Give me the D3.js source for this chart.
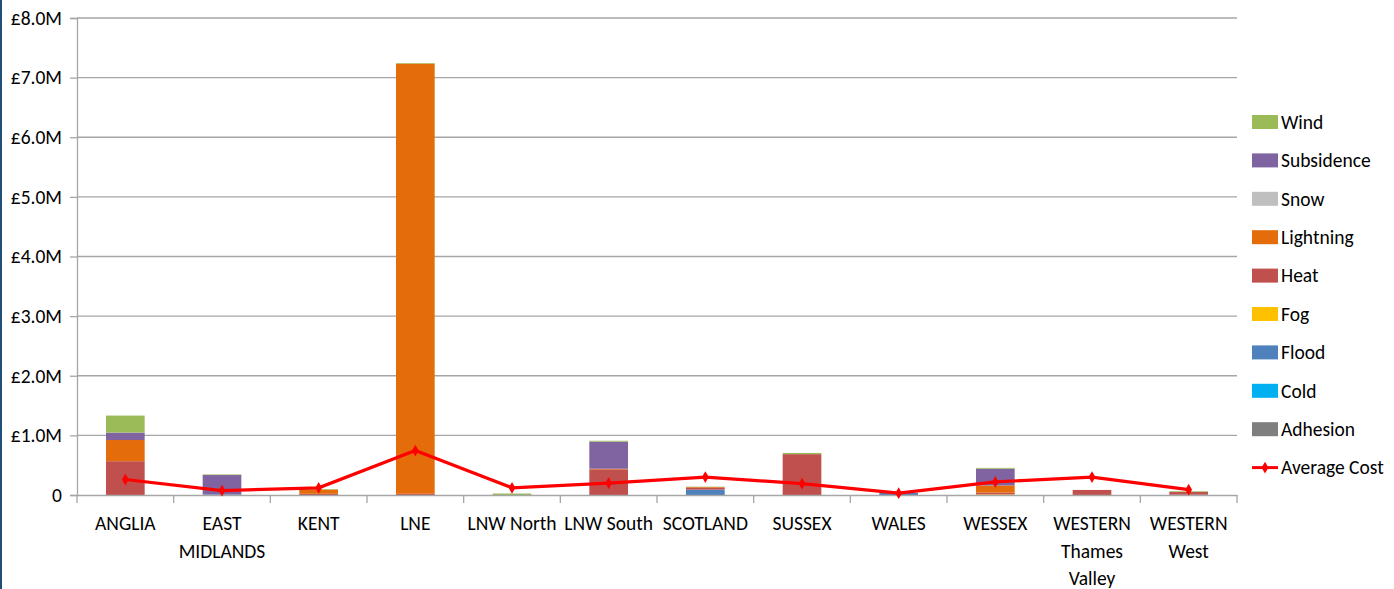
<!DOCTYPE html>
<html>
<head>
<meta charset="utf-8">
<script src="https://cdn.jsdelivr.net/npm/d3@7"></script>
<style>
  body { margin: 0; background: #fff; }
  svg text { font-family: Carlito, Lato, "Open Sans", sans-serif; fill: #000; }
</style>
</head>
<body>
<svg id="chart" width="1394" height="589"></svg>
<script>
// categories (regions), lines split by "|"
var regions = ["ANGLIA", "EAST|MIDLANDS", "KENT", "LNE", "LNW North", "LNW South", "SCOTLAND",
               "SUSSEX", "WALES", "WESSEX", "WESTERN|Thames|Valley", "WESTERN|West"]

// stack order bottom -> top
var causes = ["Adhesion", "Cold", "Flood", "Fog", "Heat", "Lightning", "Snow", "Subsidence", "Wind"]
var causeColors = ["#7F7F7F", "#00B0F0", "#4F81BD", "#FFC000", "#C0504D", "#E46C0A", "#BFBFBF", "#8064A2", "#9BBB59"]

// cost per cause, £M, one value per region
var adhesion   = [0, 0, 0, 0, 0, 0, 0, 0, 0, 0, 0, 0.005]
var cold       = [0, 0, 0, 0, 0, 0, 0, 0, 0, 0, 0, 0]
var flood      = [0, 0.01, 0, 0, 0, 0, 0.09, 0, 0.035, 0, 0, 0]
var fog        = [0, 0, 0, 0, 0, 0, 0, 0, 0, 0.01, 0, 0]
var heat       = [0.567, 0, 0.02, 0.02, 0, 0.43, 0.035, 0.685, 0, 0.03, 0.085, 0.045]
var lightning  = [0.355, 0, 0.07, 7.215, 0, 0.01, 0.01, 0, 0, 0.12, 0, 0]
var snow       = [0, 0, 0, 0, 0, 0, 0, 0, 0, 0, 0, 0]
var subsidence = [0.125, 0.325, 0, 0, 0, 0.455, 0, 0, 0, 0.28, 0, 0]
var wind       = [0.285, 0.01, 0.01, 0.01, 0.025, 0.015, 0.005, 0.02, 0, 0.015, 0, 0.012]
var averageCost = [0.26, 0.075, 0.12, 0.745, 0.12, 0.2, 0.3, 0.19, 0.03, 0.22, 0.3, 0.09]

var yTicks = [0, 1, 2, 3, 4, 5, 6, 7, 8]

var series = [adhesion, cold, flood, fog, heat, lightning, snow, subsidence, wind]

var data = regions.map(function (r, i) {
    var row = { label: r }
    causes.forEach(function (c, k) { row[c] = series[k][i] })
    row.avg = averageCost[i]
    return row
})

var fontSize = "19.5px"

var svg = d3.select("#chart"),
    margin = { top: 18, left: 77, bottom: 94, right: 157 },
    width = +svg.attr("width"),
    height = +svg.attr("height")

// dark blue frame edge on the left
svg.append("rect").attr("x", 0).attr("y", 0).attr("width", 2).attr("height", height).attr("fill", "#1F4E79")

var x = d3.scaleBand()
    .domain(regions)
    .range([margin.left, width - margin.right])
    .paddingInner(0.6).paddingOuter(0.3)

var xb = d3.scaleBand()
    .domain(regions)
    .range([margin.left, width - margin.right])

var y = d3.scaleLinear()
    .domain([0, 8])
    .range([height - margin.bottom, margin.top])

// gridlines
svg.append("g")
    .selectAll("line")
    .data(yTicks.slice(1))
    .enter().append("line")
    .attr("x1", margin.left).attr("x2", width - margin.right)
    .attr("y1", d => y(d)).attr("y2", d => y(d))
    .attr("stroke", "#A6A6A6").attr("stroke-width", 1.3)

// y axis
var yAxis = svg.append("g")
    .attr("transform", `translate(${margin.left},0)`)
    .call(d3.axisLeft(y).tickValues(yTicks).tickSize(7).tickPadding(8)
        .tickFormat(d => d === 0 ? "0" : "£" + d.toFixed(1) + "M"))
yAxis.selectAll("text").style("font-size", fontSize)
yAxis.selectAll("line, path").attr("stroke", "#A6A6A6").attr("stroke-width", 1.3)

// stacked bars
var stack = d3.stack().keys(causes)(data)
svg.selectAll("g.layer")
    .data(stack)
    .enter().append("g")
    .attr("class", "layer")
    .attr("fill", (d, i) => causeColors[i])
    .selectAll("rect")
    .data(d => d)
    .enter().append("rect")
    .attr("x", d => x(d.data.label))
    .attr("width", x.bandwidth())
    .attr("y", d => y(d[1]))
    .attr("height", d => Math.max(0, y(d[0]) - y(d[1])))

// x axis
var xAxis = svg.append("g")
    .attr("transform", `translate(0,${y(0)})`)
    .call(d3.axisBottom(xb).tickSize(0).tickFormat(""))
xAxis.select("path").attr("stroke", "#A6A6A6").attr("stroke-width", 1.3)
svg.append("g").selectAll("line")
    .data(regions.concat(["end"]))
    .enter().append("line")
    .attr("x1", (d, i) => margin.left + i * xb.bandwidth())
    .attr("x2", (d, i) => margin.left + i * xb.bandwidth())
    .attr("y1", y(0)).attr("y2", y(0) + 8)
    .attr("stroke", "#A6A6A6").attr("stroke-width", 1.3)

var labels = svg.append("g").selectAll("text")
    .data(regions)
    .enter().append("text")
    .attr("text-anchor", "middle")
    .attr("x", d => xb(d) + xb.bandwidth() / 2)
    .attr("y", 530)
    .style("font-size", fontSize)
labels.selectAll("tspan")
    .data(d => d.split("|"))
    .enter().append("tspan")
    .attr("x", function () { return d3.select(this.parentNode).attr("x") })
    .attr("dy", (d, i) => i === 0 ? 0 : 27.5)
    .text(d => d)

// average cost line
var line = d3.line()
    .x(d => xb(d.label) + xb.bandwidth() / 2)
    .y(d => y(d.avg))
svg.append("path")
    .datum(data)
    .attr("d", line)
    .attr("fill", "none")
    .attr("stroke", "#FF0000")
    .attr("stroke-width", 3.2)
svg.append("g").selectAll("path")
    .data(data)
    .enter().append("path")
    .attr("d", d3.symbol(d3.symbolDiamond, 40))
    .attr("transform", d => `translate(${xb(d.label) + xb.bandwidth() / 2},${y(d.avg)})`)
    .attr("fill", "#FF0000")

// legend
var legendKeys = causes.slice().reverse()
var legendColors = causeColors.slice().reverse()
var legend = svg.append("g").attr("transform", "translate(1252,122)")
legend.selectAll("rect")
    .data(legendKeys)
    .enter().append("rect")
    .attr("x", 0)
    .attr("y", (d, i) => i * 38.4 - 7)
    .attr("width", 26).attr("height", 14)
    .attr("fill", (d, i) => legendColors[i])
legend.append("line")
    .attr("x1", 0).attr("x2", 26)
    .attr("y1", legendKeys.length * 38.4).attr("y2", legendKeys.length * 38.4)
    .attr("stroke", "#FF0000").attr("stroke-width", 3)
legend.append("path")
    .attr("d", d3.symbol(d3.symbolDiamond, 40))
    .attr("transform", `translate(13,${legendKeys.length * 38.4})`)
    .attr("fill", "#FF0000")
legend.selectAll("text")
    .data(legendKeys.concat(["Average Cost"]))
    .enter().append("text")
    .attr("x", 29)
    .attr("y", (d, i) => i * 38.4)
    .attr("dy", "0.35em")
    .style("font-size", fontSize)
    .text(d => d)
</script>
</body>
</html>
